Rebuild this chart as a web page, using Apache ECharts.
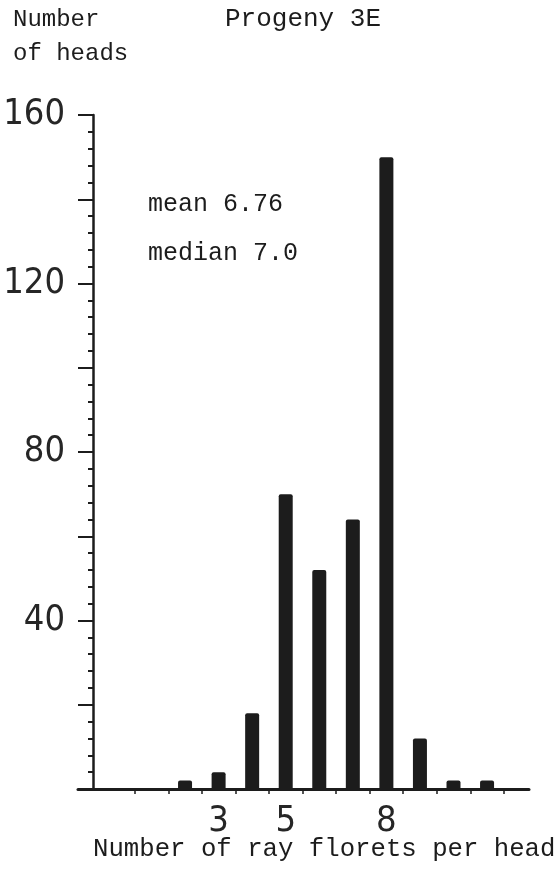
<!DOCTYPE html>
<html>
<head>
<meta charset="utf-8">
<script src="https://cdn.jsdelivr.net/npm/echarts@6/dist/echarts.min.js"></script>
<style>
html,body{margin:0;padding:0;background:#fff;}
#chart{width:558px;height:870px;}
</style>
</head>
<body>
<div id="chart"></div>
<script>
// Data
const rayFlorets = [2, 3, 4, 5, 6, 7, 8, 9, 10, 11];
const headCounts = [2, 4, 18, 70, 52, 64, 150, 12, 2, 2];
const xTickLabels = [3, 5, 8];
const yTickLabels = [40, 80, 120, 160];
const xTickMarks = [0.5, 1.5, 2.5, 3.5, 4.5, 5.5, 6.5, 7.5, 8.5, 9.5, 10.5, 11.5];
const titleText = 'Progeny 3E';
const yTitleLines = ['Number', 'of heads'];
const xTitleText = 'Number of ray florets per head';
const statsLines = ['mean 6.76', 'median 7.0'];

const mono = "'Liberation Mono', 'DejaVu Sans Mono', monospace";
const narrow = "'DejaVu Sans Condensed', 'DejaVu Sans', sans-serif";
const ink = '#1c1c1c';

const chart = echarts.init(document.getElementById('chart'), null, {renderer: 'canvas'});
chart.setOption({
  backgroundColor: '#ffffff',
  animation: false,
  grid: {left: 78, right: 29, top: 115, bottom: 81, containLabel: false},
  xAxis: {
    type: 'value',
    min: -1.19,
    max: 12.25,
    splitLine: {show: false},
    axisLine: {show: true, lineStyle: {color: ink, width: 3}},
    axisTick: {show: true, customValues: xTickMarks, length: 5, lineStyle: {color: ink, width: 1.5}},
    axisLabel: {
      show: true, customValues: xTickLabels, margin: 15,
      fontFamily: narrow, fontWeight: 200, fontSize: 36, color: '#262626'
    }
  },
  yAxis: {
    type: 'value',
    min: 0,
    max: 160,
    interval: 20,
    offset: -15,
    splitLine: {show: false},
    axisLine: {show: true, onZero: false, lineStyle: {color: ink, width: 2.5}},
    axisTick: {show: true, length: 15, lineStyle: {color: ink, width: 2}},
    minorTick: {show: true, splitNumber: 5, length: 5, lineStyle: {color: ink, width: 2}},
    axisLabel: {
      margin: 28,
      fontFamily: narrow, fontWeight: 200, fontSize: 36, color: '#262626',
      formatter: function (v) { return yTickLabels.indexOf(v) >= 0 ? String(v) : ''; }
    }
  },
  series: [{
    type: 'bar',
    barWidth: 14,
    data: rayFlorets.map(function (x, i) { return [x, headCounts[i]]; }),
    itemStyle: {color: ink, borderRadius: [2, 2, 0, 0]}
  }],
  graphic: [
    {type: 'text', left: 13, top: 8, style: {text: yTitleLines[0], font: '24px ' + mono, fill: ink}},
    {type: 'text', left: 13, top: 42, style: {text: yTitleLines[1], font: '24px ' + mono, fill: ink}},
    {type: 'text', left: 225, top: 6, style: {text: titleText, font: '26px ' + mono, fill: ink}},
    {type: 'text', left: 148, top: 192, style: {text: statsLines[0], font: '25px ' + mono, fill: ink}},
    {type: 'text', left: 148, top: 241, style: {text: statsLines[1], font: '25px ' + mono, fill: ink}},
    {type: 'text', left: 93, top: 836, style: {text: xTitleText, font: '25.7px ' + mono, fill: ink}}
  ]
});
</script>
</body>
</html>
